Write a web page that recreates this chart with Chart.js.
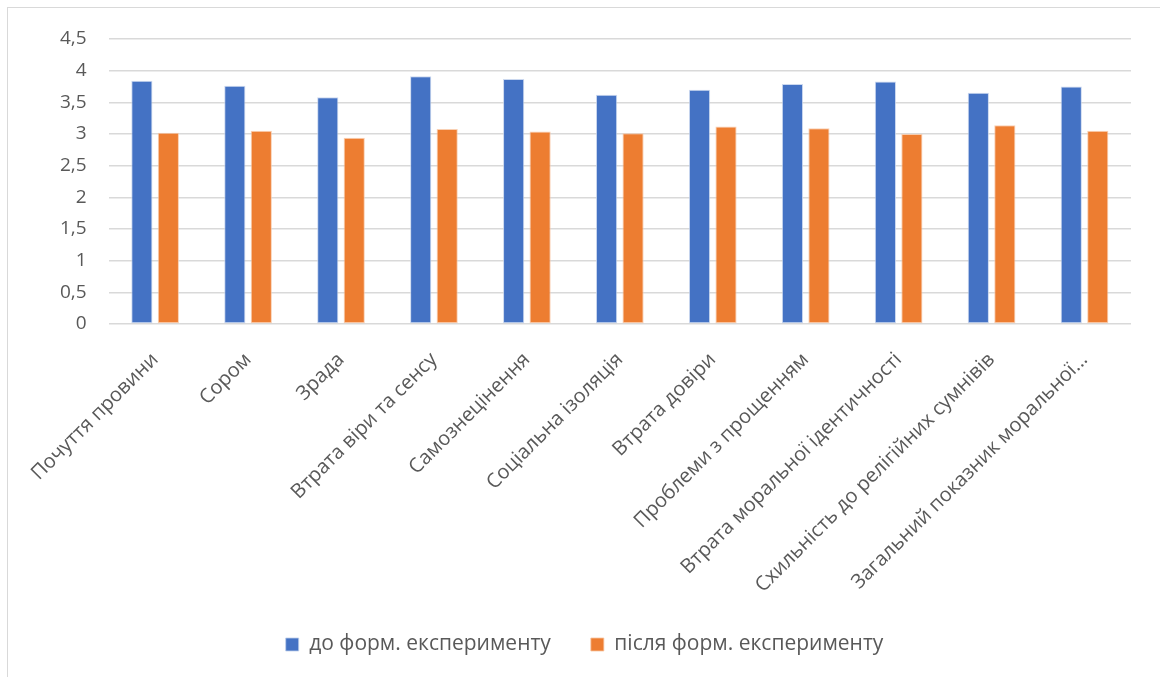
<!DOCTYPE html>
<html lang="uk">
<head>
<meta charset="utf-8">
<script src="https://cdn.jsdelivr.net/npm/chart.js@4"></script>
<style>
  html, body { margin: 0; padding: 0; background: #fff; overflow: hidden; }
  #frame {
    position: absolute; left: 7px; top: 7px;
    width: 1160px; height: 700px;
    border: 1.5px solid #d9d9d9;
    box-sizing: border-box;
  }
  #wrap { position: absolute; left: 0; top: 0; width: 1160px; height: 720px; }
</style>
</head>
<body>
<div id="frame"></div>
<div id="wrap"><canvas id="chart"></canvas></div>
<script>
const categories = [
  "Почуття провини",
  "Сором",
  "Зрада",
  "Втрата віри та сенсу",
  "Самознецінення",
  "Соціальна ізоляція",
  "Втрата довіри",
  "Проблеми з прощенням",
  "Втрата моральної ідентичності",
  "Схильність до релігійних сумнівів",
  "Загальний показник моральної...",
];

const beforeValues = [3.84, 3.76, 3.58, 3.91, 3.87, 3.62, 3.70, 3.79, 3.83, 3.65, 3.75];
const afterValues = [3.02, 3.05, 2.94, 3.08, 3.04, 3.01, 3.12, 3.09, 3.00, 3.14, 3.05];

const seriesNames = ["до форм. експерименту", "після форм. експерименту"];
const yTicks = [0, 0.5, 1, 1.5, 2, 2.5, 3, 3.5, 4, 4.5];

const textColor = "#595959";
const fontFamily = "'Open Sans', 'Noto Sans', sans-serif";

const barStyle = {
  borderWidth: 1,
  borderSkipped: false,
  barPercentage: 0.8,
  categoryPercentage: 0.57,
};

new Chart(document.getElementById("chart"), {
  type: "bar",
  data: {
    labels: categories,
    datasets: [
      {
        label: seriesNames[0],
        data: beforeValues,
        backgroundColor: "#4472C4",
        borderColor: "rgba(190, 206, 235, 0.8)",
        ...barStyle,
      },
      {
        label: seriesNames[1],
        data: afterValues,
        backgroundColor: "#ED7D31",
        borderColor: "rgba(247, 196, 160, 0.8)",
        ...barStyle,
      },
    ],
  },
  options: {
    responsive: true,
    maintainAspectRatio: false,
    animation: false,
    layout: {
      padding: { top: 39, right: 29, left: 38, bottom: 55 },
    },
    scales: {
      x: {
        grid: { display: false },
        border: { display: false },
        afterFit: (scale) => {
          // fixed band for the slanted category names
          scale.height = 270;
        },
        ticks: {
          color: textColor,
          font: { family: fontFamily, size: 20 },
          minRotation: 45,
          maxRotation: 45,
          autoSkip: false,
          padding: 16,
        },
      },
      y: {
        min: 0,
        max: 4.5,
        afterBuildTicks: (scale) => {
          scale.ticks = yTicks.map((v) => ({ value: v }));
        },
        grid: { color: "#d9d9d9", lineWidth: 1.5, drawTicks: false },
        border: { display: false },
        ticks: {
          color: textColor,
          font: { family: fontFamily, size: 19 },
          padding: 22,
          callback: (v) => String(v).replace(".", ","),
        },
      },
    },
    plugins: {
      legend: {
        position: "bottom",
        labels: {
          color: textColor,
          font: { family: fontFamily, size: 21 },
          boxWidth: 13,
          boxHeight: 13,
          padding: 40,
        },
      },
      tooltip: { enabled: false },
    },
  },
});
</script>
</body>
</html>
